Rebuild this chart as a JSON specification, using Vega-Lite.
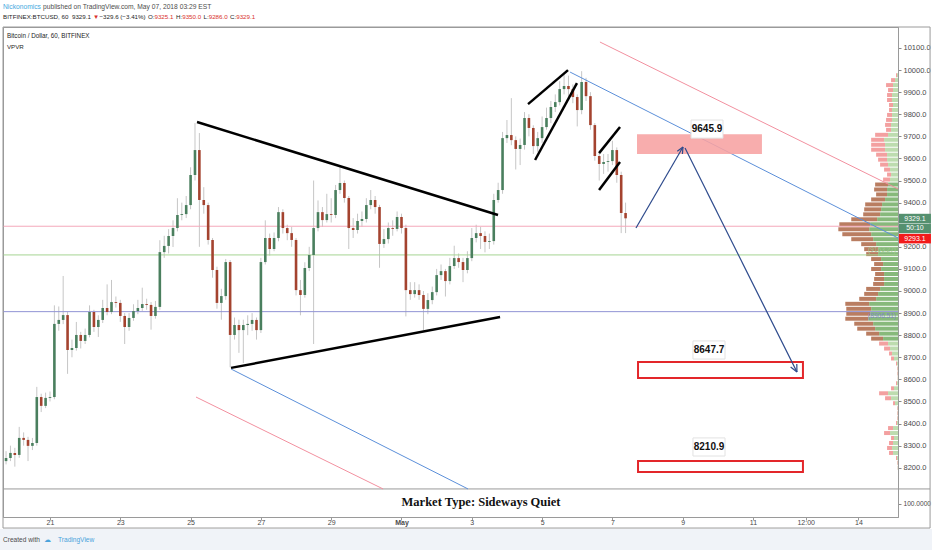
{
"$schema":"https://vega.github.io/schema/vega-lite/v6.json",
"width":895,"height":490,
"autosize":{"type":"none"},
"padding":{"left":3,"top":27,"right":34,"bottom":33},
"background":"#ffffff",
"config":{"view":{"stroke":"#9a9a9a","strokeWidth":1},"scale":{"continuousPadding":0},"axis":{"labelOverlap":false,"labelSeparation":0},"text":{"font":"Liberation Sans, Arial, sans-serif"}},
"datasets":{
"candles":[
{"t":"2018-04-19T18:00Z","o":8230,"h":8275,"l":8215,"c":8244},
{"t":"2018-04-19T21:00Z","o":8244,"h":8300,"l":8230,"c":8267},
{"t":"2018-04-20T00:00Z","o":8267,"h":8290,"l":8205,"c":8258},
{"t":"2018-04-20T03:00Z","o":8258,"h":8385,"l":8245,"c":8335},
{"t":"2018-04-20T06:00Z","o":8335,"h":8360,"l":8300,"c":8326},
{"t":"2018-04-20T09:00Z","o":8326,"h":8340,"l":8230,"c":8299},
{"t":"2018-04-20T12:00Z","o":8299,"h":8335,"l":8280,"c":8312},
{"t":"2018-04-20T15:00Z","o":8312,"h":8566,"l":8300,"c":8520},
{"t":"2018-04-20T18:00Z","o":8520,"h":8535,"l":8452,"c":8480},
{"t":"2018-04-20T21:00Z","o":8480,"h":8540,"l":8470,"c":8516},
{"t":"2018-04-21T00:00Z","o":8516,"h":8545,"l":8500,"c":8520},
{"t":"2018-04-21T03:00Z","o":8520,"h":8935,"l":8510,"c":8851},
{"t":"2018-04-21T06:00Z","o":8851,"h":8930,"l":8820,"c":8869},
{"t":"2018-04-21T09:00Z","o":8869,"h":9068,"l":8850,"c":8891},
{"t":"2018-04-21T12:00Z","o":8891,"h":8905,"l":8625,"c":8733},
{"t":"2018-04-21T15:00Z","o":8733,"h":8780,"l":8700,"c":8742},
{"t":"2018-04-21T18:00Z","o":8742,"h":8860,"l":8730,"c":8801},
{"t":"2018-04-21T21:00Z","o":8801,"h":8815,"l":8740,"c":8774},
{"t":"2018-04-22T00:00Z","o":8774,"h":8830,"l":8760,"c":8801},
{"t":"2018-04-22T03:00Z","o":8801,"h":8935,"l":8790,"c":8905},
{"t":"2018-04-22T06:00Z","o":8905,"h":8915,"l":8815,"c":8837},
{"t":"2018-04-22T09:00Z","o":8837,"h":8890,"l":8792,"c":8869},
{"t":"2018-04-22T12:00Z","o":8869,"h":8960,"l":8855,"c":8923},
{"t":"2018-04-22T15:00Z","o":8923,"h":9030,"l":8890,"c":8905},
{"t":"2018-04-22T18:00Z","o":8905,"h":9050,"l":8895,"c":8950},
{"t":"2018-04-22T21:00Z","o":8950,"h":8975,"l":8925,"c":8946},
{"t":"2018-04-23T00:00Z","o":8946,"h":8960,"l":8860,"c":8887},
{"t":"2018-04-23T03:00Z","o":8887,"h":8900,"l":8760,"c":8837},
{"t":"2018-04-23T06:00Z","o":8837,"h":8900,"l":8820,"c":8878},
{"t":"2018-04-23T09:00Z","o":8878,"h":8940,"l":8865,"c":8909},
{"t":"2018-04-23T12:00Z","o":8909,"h":8960,"l":8895,"c":8923},
{"t":"2018-04-23T15:00Z","o":8923,"h":9015,"l":8910,"c":8941},
{"t":"2018-04-23T18:00Z","o":8941,"h":8965,"l":8915,"c":8937},
{"t":"2018-04-23T21:00Z","o":8937,"h":8950,"l":8825,"c":8887},
{"t":"2018-04-24T00:00Z","o":8887,"h":8955,"l":8875,"c":8928},
{"t":"2018-04-24T03:00Z","o":8928,"h":9230,"l":8915,"c":9176},
{"t":"2018-04-24T06:00Z","o":9176,"h":9250,"l":9150,"c":9204},
{"t":"2018-04-24T09:00Z","o":9204,"h":9280,"l":9170,"c":9249},
{"t":"2018-04-24T12:00Z","o":9249,"h":9320,"l":9199,"c":9285},
{"t":"2018-04-24T15:00Z","o":9285,"h":9420,"l":9270,"c":9344},
{"t":"2018-04-24T18:00Z","o":9344,"h":9400,"l":9320,"c":9348},
{"t":"2018-04-24T21:00Z","o":9348,"h":9430,"l":9330,"c":9389},
{"t":"2018-04-25T00:00Z","o":9389,"h":9560,"l":9370,"c":9525},
{"t":"2018-04-25T03:00Z","o":9525,"h":9760,"l":9500,"c":9638},
{"t":"2018-04-25T06:00Z","o":9638,"h":9715,"l":9200,"c":9412},
{"t":"2018-04-25T09:00Z","o":9412,"h":9470,"l":9350,"c":9389},
{"t":"2018-04-25T12:00Z","o":9389,"h":9400,"l":9210,"c":9231},
{"t":"2018-04-25T15:00Z","o":9231,"h":9240,"l":9060,"c":9095},
{"t":"2018-04-25T18:00Z","o":9095,"h":9110,"l":8920,"c":8946},
{"t":"2018-04-25T21:00Z","o":8946,"h":9010,"l":8870,"c":8977},
{"t":"2018-04-26T00:00Z","o":8977,"h":9145,"l":8960,"c":9131},
{"t":"2018-04-26T03:00Z","o":9131,"h":9140,"l":8655,"c":8801},
{"t":"2018-04-26T06:00Z","o":8801,"h":8880,"l":8780,"c":8846},
{"t":"2018-04-26T09:00Z","o":8846,"h":8870,"l":8720,"c":8823},
{"t":"2018-04-26T12:00Z","o":8823,"h":8870,"l":8674,"c":8846},
{"t":"2018-04-26T15:00Z","o":8846,"h":8890,"l":8800,"c":8851},
{"t":"2018-04-26T18:00Z","o":8851,"h":8900,"l":8820,"c":8869},
{"t":"2018-04-26T21:00Z","o":8869,"h":8880,"l":8780,"c":8823},
{"t":"2018-04-27T00:00Z","o":8823,"h":9150,"l":8810,"c":9131},
{"t":"2018-04-27T03:00Z","o":9131,"h":9320,"l":9120,"c":9240},
{"t":"2018-04-27T06:00Z","o":9240,"h":9260,"l":9160,"c":9190},
{"t":"2018-04-27T09:00Z","o":9190,"h":9265,"l":9180,"c":9240},
{"t":"2018-04-27T12:00Z","o":9240,"h":9380,"l":9225,"c":9357},
{"t":"2018-04-27T15:00Z","o":9357,"h":9370,"l":9260,"c":9285},
{"t":"2018-04-27T18:00Z","o":9285,"h":9300,"l":9230,"c":9262},
{"t":"2018-04-27T21:00Z","o":9262,"h":9290,"l":9200,"c":9231},
{"t":"2018-04-28T00:00Z","o":9231,"h":9240,"l":8980,"c":9004},
{"t":"2018-04-28T03:00Z","o":9004,"h":9050,"l":8890,"c":8982},
{"t":"2018-04-28T06:00Z","o":8982,"h":9130,"l":8970,"c":9104},
{"t":"2018-04-28T09:00Z","o":9104,"h":9200,"l":9090,"c":9163},
{"t":"2018-04-28T12:00Z","o":9163,"h":9500,"l":8760,"c":9285},
{"t":"2018-04-28T15:00Z","o":9285,"h":9410,"l":9270,"c":9357},
{"t":"2018-04-28T18:00Z","o":9357,"h":9380,"l":9290,"c":9321},
{"t":"2018-04-28T21:00Z","o":9321,"h":9440,"l":9310,"c":9348},
{"t":"2018-04-29T00:00Z","o":9348,"h":9420,"l":9310,"c":9344},
{"t":"2018-04-29T03:00Z","o":9344,"h":9480,"l":9330,"c":9457},
{"t":"2018-04-29T06:00Z","o":9457,"h":9561,"l":9440,"c":9489},
{"t":"2018-04-29T09:00Z","o":9489,"h":9500,"l":9400,"c":9421},
{"t":"2018-04-29T12:00Z","o":9421,"h":9430,"l":9190,"c":9285},
{"t":"2018-04-29T15:00Z","o":9285,"h":9330,"l":9240,"c":9276},
{"t":"2018-04-29T18:00Z","o":9276,"h":9350,"l":9260,"c":9317},
{"t":"2018-04-29T21:00Z","o":9317,"h":9360,"l":9290,"c":9326},
{"t":"2018-04-30T00:00Z","o":9326,"h":9420,"l":9310,"c":9389},
{"t":"2018-04-30T03:00Z","o":9389,"h":9457,"l":9370,"c":9412},
{"t":"2018-04-30T06:00Z","o":9412,"h":9430,"l":9350,"c":9380},
{"t":"2018-04-30T09:00Z","o":9380,"h":9390,"l":9105,"c":9213},
{"t":"2018-04-30T12:00Z","o":9213,"h":9280,"l":9195,"c":9235},
{"t":"2018-04-30T15:00Z","o":9235,"h":9310,"l":9215,"c":9285},
{"t":"2018-04-30T18:00Z","o":9285,"h":9320,"l":9250,"c":9281},
{"t":"2018-04-30T21:00Z","o":9281,"h":9360,"l":9270,"c":9335},
{"t":"2018-05-01T00:00Z","o":9335,"h":9350,"l":9260,"c":9285},
{"t":"2018-05-01T03:00Z","o":9285,"h":9300,"l":8885,"c":9004},
{"t":"2018-05-01T06:00Z","o":9004,"h":9040,"l":8960,"c":8986},
{"t":"2018-05-01T09:00Z","o":8986,"h":9040,"l":8970,"c":9004},
{"t":"2018-05-01T12:00Z","o":9004,"h":9030,"l":8960,"c":8982},
{"t":"2018-05-01T15:00Z","o":8982,"h":9000,"l":8823,"c":8919},
{"t":"2018-05-01T18:00Z","o":8919,"h":8990,"l":8895,"c":8959},
{"t":"2018-05-01T21:00Z","o":8959,"h":9020,"l":8940,"c":8995},
{"t":"2018-05-02T00:00Z","o":8995,"h":9100,"l":8980,"c":9072},
{"t":"2018-05-02T03:00Z","o":9072,"h":9120,"l":9050,"c":9090},
{"t":"2018-05-02T06:00Z","o":9090,"h":9100,"l":8975,"c":9045},
{"t":"2018-05-02T09:00Z","o":9045,"h":9150,"l":9030,"c":9113},
{"t":"2018-05-02T12:00Z","o":9113,"h":9205,"l":9100,"c":9149},
{"t":"2018-05-02T15:00Z","o":9149,"h":9170,"l":9105,"c":9131},
{"t":"2018-05-02T18:00Z","o":9131,"h":9150,"l":9040,"c":9095},
{"t":"2018-05-02T21:00Z","o":9095,"h":9180,"l":9080,"c":9149},
{"t":"2018-05-03T00:00Z","o":9149,"h":9285,"l":9135,"c":9240},
{"t":"2018-05-03T03:00Z","o":9240,"h":9300,"l":9220,"c":9262},
{"t":"2018-05-03T06:00Z","o":9262,"h":9290,"l":9190,"c":9249},
{"t":"2018-05-03T09:00Z","o":9249,"h":9270,"l":9175,"c":9222},
{"t":"2018-05-03T12:00Z","o":9222,"h":9260,"l":9190,"c":9226},
{"t":"2018-05-03T15:00Z","o":9226,"h":9440,"l":9210,"c":9412},
{"t":"2018-05-03T18:00Z","o":9412,"h":9490,"l":9400,"c":9457},
{"t":"2018-05-03T21:00Z","o":9457,"h":9720,"l":9440,"c":9692},
{"t":"2018-05-04T00:00Z","o":9692,"h":9774,"l":9670,"c":9706},
{"t":"2018-05-04T03:00Z","o":9706,"h":9873,"l":9660,"c":9683},
{"t":"2018-05-04T06:00Z","o":9683,"h":9700,"l":9550,"c":9643},
{"t":"2018-05-04T09:00Z","o":9643,"h":9690,"l":9570,"c":9661},
{"t":"2018-05-04T12:00Z","o":9661,"h":9810,"l":9640,"c":9783},
{"t":"2018-05-04T15:00Z","o":9783,"h":9800,"l":9700,"c":9738},
{"t":"2018-05-04T18:00Z","o":9738,"h":9750,"l":9620,"c":9656},
{"t":"2018-05-04T21:00Z","o":9656,"h":9720,"l":9630,"c":9692},
{"t":"2018-05-05T00:00Z","o":9692,"h":9790,"l":9670,"c":9742},
{"t":"2018-05-05T03:00Z","o":9742,"h":9830,"l":9730,"c":9783},
{"t":"2018-05-05T06:00Z","o":9783,"h":9860,"l":9760,"c":9833},
{"t":"2018-05-05T09:00Z","o":9833,"h":9890,"l":9810,"c":9855},
{"t":"2018-05-05T12:00Z","o":9855,"h":9950,"l":9840,"c":9914},
{"t":"2018-05-05T15:00Z","o":9914,"h":9990,"l":9890,"c":9928},
{"t":"2018-05-05T18:00Z","o":9928,"h":9975,"l":9880,"c":9914},
{"t":"2018-05-05T21:00Z","o":9914,"h":9935,"l":9850,"c":9878},
{"t":"2018-05-06T00:00Z","o":9878,"h":9890,"l":9745,"c":9819},
{"t":"2018-05-06T03:00Z","o":9819,"h":9995,"l":9800,"c":9946},
{"t":"2018-05-06T06:00Z","o":9946,"h":9965,"l":9860,"c":9882},
{"t":"2018-05-06T09:00Z","o":9882,"h":9900,"l":9730,"c":9751},
{"t":"2018-05-06T12:00Z","o":9751,"h":9760,"l":9590,"c":9611},
{"t":"2018-05-06T15:00Z","o":9611,"h":9630,"l":9500,"c":9575},
{"t":"2018-05-06T18:00Z","o":9575,"h":9620,"l":9530,"c":9584},
{"t":"2018-05-06T21:00Z","o":9584,"h":9620,"l":9540,"c":9588},
{"t":"2018-05-07T00:00Z","o":9588,"h":9680,"l":9570,"c":9638},
{"t":"2018-05-07T03:00Z","o":9638,"h":9650,"l":9490,"c":9525},
{"t":"2018-05-07T06:00Z","o":9525,"h":9540,"l":9262,"c":9353},
{"t":"2018-05-07T09:00Z","o":9353,"h":9400,"l":9262,"c":9329.1}
],
"vp":[
{"p":9977,"total":20,"up":10,"va":false},{"p":9954.5,"total":70,"up":30,"va":false},{"p":9932,"total":120,"up":50,"va":false},{"p":9909.5,"total":100,"up":50,"va":false},
{"p":9887,"total":110,"up":60,"va":false},{"p":9864.5,"total":110,"up":60,"va":false},{"p":9842,"total":90,"up":50,"va":false},{"p":9819.5,"total":90,"up":60,"va":false},
{"p":9797,"total":110,"up":60,"va":false},{"p":9774.5,"total":120,"up":60,"va":false},{"p":9752,"total":130,"up":70,"va":false},{"p":9729.5,"total":120,"up":70,"va":false},
{"p":9707,"total":230,"up":100,"va":false},{"p":9684.5,"total":270,"up":140,"va":false},{"p":9662,"total":270,"up":130,"va":false},{"p":9639.5,"total":270,"up":130,"va":false},
{"p":9617,"total":220,"up":110,"va":false},{"p":9594.5,"total":200,"up":110,"va":false},{"p":9572,"total":180,"up":100,"va":false},{"p":9549.5,"total":140,"up":80,"va":false},
{"p":9527,"total":110,"up":70,"va":false},{"p":9504.5,"total":150,"up":80,"va":false},
{"p":9482,"total":230,"up":100,"va":true},{"p":9459.5,"total":240,"up":110,"va":true},{"p":9437,"total":220,"up":110,"va":true},{"p":9414.5,"total":270,"up":130,"va":true},
{"p":9392,"total":330,"up":160,"va":true},{"p":9369.5,"total":340,"up":170,"va":true},{"p":9347,"total":350,"up":180,"va":true},{"p":9324.5,"total":470,"up":210,"va":true},
{"p":9302,"total":590,"up":280,"va":true},{"p":9279.5,"total":600,"up":290,"va":true},{"p":9257,"total":560,"up":270,"va":true},{"p":9234.5,"total":470,"up":250,"va":true},
{"p":9212,"total":370,"up":220,"va":true},{"p":9189.5,"total":340,"up":200,"va":true},{"p":9167,"total":320,"up":200,"va":true},{"p":9144.5,"total":270,"up":170,"va":true},
{"p":9122,"total":240,"up":150,"va":true},{"p":9099.5,"total":270,"up":170,"va":true},{"p":9077,"total":230,"up":140,"va":true},{"p":9054.5,"total":240,"up":140,"va":true},
{"p":9032,"total":250,"up":140,"va":true},{"p":9009.5,"total":320,"up":180,"va":true},{"p":8987,"total":340,"up":200,"va":true},{"p":8964.5,"total":390,"up":220,"va":true},
{"p":8942,"total":530,"up":290,"va":true},{"p":8919.5,"total":520,"up":270,"va":true},{"p":8897,"total":520,"up":280,"va":true},{"p":8874.5,"total":530,"up":300,"va":true},
{"p":8852,"total":440,"up":250,"va":true},{"p":8829.5,"total":410,"up":230,"va":true},{"p":8807,"total":320,"up":190,"va":true},{"p":8784.5,"total":270,"up":150,"va":true},
{"p":8762,"total":190,"up":100,"va":false},{"p":8739.5,"total":140,"up":80,"va":false},{"p":8717,"total":90,"up":60,"va":false},{"p":8694.5,"total":70,"up":40,"va":false},
{"p":8672,"total":20,"up":10,"va":false},{"p":8649.5,"total":10,"up":5,"va":false},{"p":8627,"total":10,"up":5,"va":false},{"p":8604.5,"total":5,"up":3,"va":false},
{"p":8582,"total":20,"up":10,"va":false},{"p":8559.5,"total":70,"up":40,"va":false},{"p":8537,"total":190,"up":100,"va":false},{"p":8514.5,"total":130,"up":70,"va":false},
{"p":8492,"total":50,"up":30,"va":false},{"p":8469.5,"total":10,"up":5,"va":false},{"p":8447,"total":10,"up":5,"va":false},{"p":8424.5,"total":10,"up":5,"va":false},
{"p":8402,"total":20,"up":10,"va":false},{"p":8379.5,"total":100,"up":50,"va":false},{"p":8357,"total":140,"up":80,"va":false},{"p":8334.5,"total":70,"up":40,"va":false},
{"p":8312,"total":90,"up":50,"va":false},{"p":8289.5,"total":110,"up":60,"va":false},{"p":8267,"total":90,"up":50,"va":false},{"p":8244.5,"total":20,"up":10,"va":false},
{"p":8222,"total":10,"up":5,"va":false},{"p":8199.5,"total":5,"up":3,"va":false}
],
"lines":[
{"g":"black","id":"tri1","t":"2018-04-25T04:24Z","p":9765},{"g":"black","id":"tri1","t":"2018-05-03T17:54Z","p":9344},
{"g":"black","id":"tri2","t":"2018-04-26T03:36Z","p":8652},{"g":"black","id":"tri2","t":"2018-05-03T19:18Z","p":8882},
{"g":"black","id":"chA","t":"2018-05-04T14:24Z","p":9846},{"g":"black","id":"chA","t":"2018-05-05T17:42Z","p":10000},
{"g":"black","id":"chB","t":"2018-05-04T19:12Z","p":9593},{"g":"black","id":"chB","t":"2018-05-05T23:48Z","p":9941},
{"g":"black","id":"flC","t":"2018-05-06T14:54Z","p":9624},{"g":"black","id":"flC","t":"2018-05-07T05:12Z","p":9742},
{"g":"black","id":"flD","t":"2018-05-06T14:54Z","p":9457},{"g":"black","id":"flD","t":"2018-05-07T05:12Z","p":9584},
{"g":"pink","id":"pk1","t":"2018-05-06T15:30Z","p":10127},{"g":"pink","id":"pk1","t":"2018-05-15T03:00Z","p":9462},
{"g":"pink","id":"pk2","t":"2018-04-25T03:42Z","p":8520},{"g":"pink","id":"pk2","t":"2018-04-30T11:24Z","p":8104},
{"g":"blue","id":"bl1","t":"2018-05-05T19:06Z","p":9991},{"g":"blue","id":"bl1","t":"2018-05-15T03:00Z","p":9240},
{"g":"blue","id":"bl2","t":"2018-04-26T03:36Z","p":8647},{"g":"blue","id":"bl2","t":"2018-05-02T21:24Z","p":8104},
{"g":"navy","id":"ar1","t":"2018-05-07T16:06Z","p":9285},{"g":"navy","id":"ar1","t":"2018-05-09T00:12Z","p":9652},
{"g":"navy","id":"ar1a","t":"2018-05-08T20:18Z","p":9633},{"g":"navy","id":"ar1a","t":"2018-05-09T00:12Z","p":9652},
{"g":"navy","id":"ar1b","t":"2018-05-08T23:48Z","p":9620},{"g":"navy","id":"ar1b","t":"2018-05-09T00:12Z","p":9652},
{"g":"navy","id":"ar2","t":"2018-05-09T01:36Z","p":9647},{"g":"navy","id":"ar2","t":"2018-05-12T06:00Z","p":8633},
{"g":"navy","id":"ar2a","t":"2018-05-12T05:54Z","p":8670},{"g":"navy","id":"ar2a","t":"2018-05-12T06:00Z","p":8633},
{"g":"navy","id":"ar2b","t":"2018-05-12T01:42Z","p":8656},{"g":"navy","id":"ar2b","t":"2018-05-12T06:00Z","p":8633}
],
"zones":[
{"kind":"zone","t1":"2018-05-07T16:48Z","t2":"2018-05-11T06:06Z","p1":9620,"p2":9710},
{"kind":"target","t1":"2018-05-07T17:30Z","t2":"2018-05-12T10:06Z","p1":8606,"p2":8679},
{"kind":"target","t1":"2018-05-07T17:30Z","t2":"2018-05-12T10:06Z","p1":8181,"p2":8231}
],
"callouts":[
{"text":"9645.9","t1":"2018-05-09T05:42Z","t2":"2018-05-10T03:30Z","p1":9692,"p2":9774,"t":"2018-05-09T16:36Z","p":9733},
{"text":"8647.7","t1":"2018-05-09T07:00Z","t2":"2018-05-10T04:54Z","p1":8692,"p2":8774,"t":"2018-05-09T17:57Z","p":8733},
{"text":"8210.9","t1":"2018-05-09T07:00Z","t2":"2018-05-10T04:54Z","p1":8253,"p2":8335,"t":"2018-05-09T17:57Z","p":8294}
],
"levels":[{"name":"last","p":9293.1},{"name":"va","p":9163.27},{"name":"poc","p":8906.51}],
"levelLabels":[{"name":"va","text":"(9163.27)","t":"2018-05-15T01:36Z","p":9185},{"name":"poc","text":"(8906.51)","t":"2018-05-15T01:36Z","p":8887}],
"tags":[{"name":"last","text":"9329.1","p":9328},{"name":"timer","text":"50:10","p":9283},{"name":"line","text":"9293.1","p":9237}],
"notes":[
{"role":"author","text":"Nickonomics","t":"2018-04-19T15:55Z","p":10287},
{"role":"published","text":"published on TradingView.com, May 07, 2018 03:29 EST","t":"2018-04-20T19:13Z","p":10287},
{"role":"symbol","text":"BITFINEX:BTCUSD, 60","t":"2018-04-19T15:55Z","p":10240},
{"role":"dark","text":"9329.1","t":"2018-04-21T15:01Z","p":10240},
{"role":"red","text":"▼","t":"2018-04-22T05:22Z","p":10240},
{"role":"dark","text":"−329.6 (−3.41%)","t":"2018-04-22T09:48Z","p":10240},
{"role":"dark","text":"O:","t":"2018-04-23T18:55Z","p":10240},
{"role":"red","text":"9325.1","t":"2018-04-23T23:21Z","p":10240},
{"role":"dark","text":"H:","t":"2018-04-24T14:02Z","p":10240},
{"role":"red","text":"9350.0","t":"2018-04-24T18:16Z","p":10240},
{"role":"dark","text":"L:","t":"2018-04-25T08:48Z","p":10240},
{"role":"red","text":"9286.0","t":"2018-04-25T12:22Z","p":10240},
{"role":"dark","text":"C:","t":"2018-04-26T02:54Z","p":10240},
{"role":"red","text":"9329.1","t":"2018-04-26T07:08Z","p":10240},
{"role":"pane","text":"Bitcoin / Dollar, 60, BITFINEX","t":"2018-04-19T18:38Z","p":10154},
{"role":"dark","text":"VPVR","t":"2018-04-19T18:38Z","p":10104},
{"role":"credit","text":"Created with","t":"2018-04-19T15:55Z","p":7873},
{"role":"brand","text":"☁","t":"2018-04-20T19:54Z","p":7875},
{"role":"brand","text":"TradingView","t":"2018-04-21T05:28Z","p":7873}
]
},
"resolve":{"scale":{"x":"independent"}},
"layer":[
{"data":{"name":"vp"},
 "layer":[
  {"mark":{"type":"bar","orient":"horizontal","height":4},
   "encoding":{"x":{"field":"up","type":"quantitative","scale":{"domain":[0,8950],"reverse":true,"padding":0},"axis":null},"x2":{"datum":0},
    "y":{"field":"p","type":"quantitative","scale":{"domain":[7977,10195],"zero":false,"nice":false,"padding":0}},
    "color":{"condition":{"test":"datum.va","value":"#87b97b"},"value":"#bddcaf"}}},
  {"mark":{"type":"bar","orient":"horizontal","height":4},
   "encoding":{"x":{"field":"total","type":"quantitative","axis":null},"x2":{"field":"up"},
    "y":{"field":"p","type":"quantitative"},
    "color":{"condition":{"test":"datum.va","value":"#b97d61"},"value":"#f3a0a0"}}}
 ]},
{"layer":[
  {"data":{"values":[{}]},"mark":{"type":"rect","color":"#f0f3f8"},
   "encoding":{"x":{"datum":{"year":2018,"month":4,"date":19,"hours":13,"minutes":54,"utc":true},"type":"temporal"},
    "x2":{"datum":{"year":2018,"month":5,"date":16,"hours":2,"minutes":12,"utc":true}},
    "y":{"datum":7923,"type":"quantitative"},"y2":{"datum":7780}}},
  {"data":{"name":"candles"},"mark":{"type":"rule","color":"#c6c6c6","strokeWidth":1},
   "encoding":{"x":{"field":"t","type":"temporal"},"y":{"field":"l","type":"quantitative"},"y2":{"field":"h"}}},
  {"data":{"name":"levels"},"mark":{"type":"rule","strokeWidth":1},
   "encoding":{"y":{"field":"p","type":"quantitative"},
    "color":{"condition":[{"test":"datum.name == 'last'","value":"#f4a9ba"},{"test":"datum.name == 'va'","value":"#a6d493"}],"value":"#9193d4"}}},
  {"data":{"values":[{}]},"mark":{"type":"rule","color":"#9a9a9a","strokeWidth":1},
   "encoding":{"x":{"datum":{"year":2018,"month":4,"date":19,"hours":15,"minutes":55,"utc":true},"type":"temporal"},
    "x2":{"datum":{"year":2018,"month":5,"date":16,"hours":0,"minutes":54,"utc":true}},
    "y":{"datum":8104,"type":"quantitative"}}},
  {"data":{"values":[{}]},"mark":{"type":"rect","fill":"#ffffff","fillOpacity":0,"stroke":"#9a9a9a","strokeWidth":1},
   "encoding":{"x":{"datum":{"year":2018,"month":4,"date":19,"hours":15,"minutes":55,"utc":true},"type":"temporal"},
    "x2":{"datum":{"year":2018,"month":5,"date":16,"hours":0,"minutes":54,"utc":true}},
    "y":{"datum":7927,"type":"quantitative"},"y2":{"datum":10195}}},
  {"data":{"name":"candles"},"mark":{"type":"bar","width":2.6},
   "encoding":{"x":{"field":"t","type":"temporal"},"y":{"field":"o","type":"quantitative"},"y2":{"field":"c"},
    "color":{"condition":{"test":"datum.c >= datum.o","value":"#4a7f5e"},"value":"#a4432f"}}},
  {"data":{"name":"lines"},"transform":[{"filter":"datum.g == 'pink'"}],"mark":{"type":"line","color":"#f2909f","strokeWidth":1},
   "encoding":{"x":{"field":"t","type":"temporal"},"y":{"field":"p","type":"quantitative"},"detail":{"field":"id"}}},
  {"data":{"name":"lines"},"transform":[{"filter":"datum.g == 'blue'"}],"mark":{"type":"line","color":"#5b8fd9","strokeWidth":1},
   "encoding":{"x":{"field":"t","type":"temporal"},"y":{"field":"p","type":"quantitative"},"detail":{"field":"id"}}},
  {"data":{"name":"zones"},"transform":[{"filter":"datum.kind == 'zone'"}],"mark":{"type":"rect","color":"#f7a2a2","opacity":0.88},
   "encoding":{"x":{"field":"t1","type":"temporal"},"x2":{"field":"t2"},"y":{"field":"p1","type":"quantitative"},"y2":{"field":"p2"}}},
  {"data":{"name":"zones"},"transform":[{"filter":"datum.kind == 'target'"}],"mark":{"type":"rect","fill":"#ffffff","fillOpacity":0,"stroke":"#e3262a","strokeWidth":2},
   "encoding":{"x":{"field":"t1","type":"temporal"},"x2":{"field":"t2"},"y":{"field":"p1","type":"quantitative"},"y2":{"field":"p2"}}},
  {"data":{"name":"lines"},"transform":[{"filter":"datum.g == 'navy'"}],"mark":{"type":"line","color":"#2d4a8c","strokeWidth":1.2},
   "encoding":{"x":{"field":"t","type":"temporal"},"y":{"field":"p","type":"quantitative"},"detail":{"field":"id"}}},
  {"data":{"name":"lines"},"transform":[{"filter":"datum.g == 'black'"}],"mark":{"type":"line","color":"#000000","strokeWidth":2.5},
   "encoding":{"x":{"field":"t","type":"temporal"},"y":{"field":"p","type":"quantitative"},"detail":{"field":"id"}}},
  {"data":{"name":"callouts"},"mark":{"type":"rect","fill":"#ffffff","stroke":"#e2e2e2","strokeWidth":1},
   "encoding":{"x":{"field":"t1","type":"temporal"},"x2":{"field":"t2"},"y":{"field":"p1","type":"quantitative"},"y2":{"field":"p2"}}},
  {"data":{"name":"callouts"},"mark":{"type":"text","fontWeight":"bold","fontSize":10,"color":"#111111","align":"center","baseline":"middle"},
   "encoding":{"x":{"field":"t","type":"temporal"},"y":{"field":"p","type":"quantitative"},"text":{"field":"text"}}},
  {"data":{"name":"levelLabels"},"mark":{"type":"text","fontSize":6.5,"align":"right","baseline":"middle"},
   "encoding":{"x":{"field":"t","type":"temporal"},"y":{"field":"p","type":"quantitative"},"text":{"field":"text"},
    "color":{"condition":{"test":"datum.name == 'va'","value":"#9fc98d"},"value":"#7f83c8"}}},
  {"data":{"name":"tags"},"mark":{"type":"bar","orient":"horizontal","height":9.5},
   "encoding":{"x":{"datum":{"year":2018,"month":5,"date":15,"hours":3,"minutes":42,"utc":true},"type":"temporal"},
    "x2":{"datum":{"year":2018,"month":5,"date":16,"hours":1,"minutes":30,"utc":true}},
    "y":{"field":"p","type":"quantitative"},
    "color":{"condition":{"test":"datum.name == 'line'","value":"#f21b1b"},"value":"#55906f"}}},
  {"data":{"name":"tags"},"mark":{"type":"text","fontSize":7,"color":"#ffffff","align":"center","baseline":"middle"},
   "encoding":{"x":{"datum":{"year":2018,"month":5,"date":15,"hours":14,"minutes":36,"utc":true},"type":"temporal"},
    "y":{"field":"p","type":"quantitative"},"text":{"field":"text"}}},
  {"data":{"values":[{"text":"Market Type: Sideways Quiet"}]},"mark":{"type":"text","font":"Liberation Serif","fontWeight":"bold","fontSize":12.5,"color":"#111111","align":"center","baseline":"middle"},
   "encoding":{"x":{"datum":{"year":2018,"month":5,"date":3,"hours":6,"minutes":18,"utc":true},"type":"temporal"},
    "y":{"datum":8047,"type":"quantitative"},"text":{"field":"text"}}},
  {"data":{"name":"notes"},"mark":{"type":"text","align":"left","baseline":"middle"},
   "encoding":{
    "x":{"field":"t","type":"temporal",
     "scale":{"type":"utc","padding":0,"domain":[{"year":2018,"month":4,"date":19,"hours":15,"minutes":55,"utc":true},{"year":2018,"month":5,"date":15,"hours":3,"utc":true}]},
     "axis":{"values":[{"year":2018,"month":4,"date":21,"utc":true},{"year":2018,"month":4,"date":23,"utc":true},{"year":2018,"month":4,"date":25,"utc":true},{"year":2018,"month":4,"date":27,"utc":true},{"year":2018,"month":4,"date":29,"utc":true},{"year":2018,"month":5,"date":1,"utc":true},{"year":2018,"month":5,"date":3,"utc":true},{"year":2018,"month":5,"date":5,"utc":true},{"year":2018,"month":5,"date":7,"utc":true},{"year":2018,"month":5,"date":9,"utc":true},{"year":2018,"month":5,"date":11,"utc":true},{"year":2018,"month":5,"date":12,"hours":12,"utc":true},{"year":2018,"month":5,"date":14,"utc":true}],
      "tickCount":40,
      "labelExpr":"utchours(datum.value) == 12 ? '12:00' : (utcdate(datum.value) == 1 ? 'May' : '' + utcdate(datum.value))",
      "labelFontWeight":{"condition":{"test":"utcdate(datum.value) == 1 && utchours(datum.value) == 0","value":"bold"},"value":"normal"},
      "orient":"bottom","title":null,"grid":false,"tickSize":3,"tickColor":"#9a9a9a","domainColor":"#9a9a9a","labelFontSize":7,"labelColor":"#4a4a4a","labelPadding":2,"labelBaseline":"middle","labelOverlap":false,"labelFont":"Liberation Sans, Arial, sans-serif","zindex":1}},
    "y":{"field":"p","type":"quantitative","scale":{"domain":[7977,10195],"zero":false,"nice":false,"padding":0},
     "axis":{"orient":"right","values":[8036,8200,8300,8400,8500,8600,8700,8800,8900,9000,9100,9200,9400,9500,9600,9700,9800,9900,10000,10100],
      "tickCount":40,
      "labelExpr":"datum.value < 8100 ? '100.0000' : format(datum.value, '.1f')",
      "labelFontSize":{"condition":{"test":"datum.value < 8100","value":6.6},"value":7.5},
      "title":null,"grid":false,"tickSize":3,"tickColor":"#8a8a8a","domainColor":"#9a9a9a","labelColor":"#4a4a4a","labelPadding":2,"labelOverlap":false,"labelSeparation":0,"labelFont":"Liberation Sans, Arial, sans-serif","zindex":0}},
    "text":{"field":"text"},
    "color":{"condition":[{"test":"datum.role == 'author'","value":"#3fa9e0"},{"test":"datum.role == 'brand'","value":"#4aa3dc"},{"test":"datum.role == 'red'","value":"#d9302c"},{"test":"datum.role == 'published' || datum.role == 'credit'","value":"#4d4d4d"}],"value":"#1e1e1e"},
    "fontWeight":{"condition":{"test":"datum.role == 'symbol' || datum.role == 'pane'","value":"bold"},"value":"normal"},
    "size":{"condition":[{"test":"datum.role == 'author' || datum.role == 'published'","value":6.7},{"test":"datum.role == 'credit' || datum.role == 'brand'","value":6.6},{"test":"datum.role == 'pane'","value":6.3}],"value":6.2}}}
 ]}
]
}
